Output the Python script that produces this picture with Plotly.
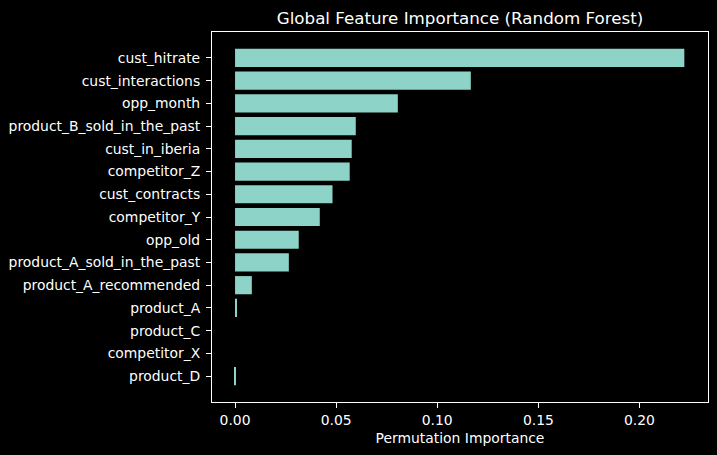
import plotly.graph_objects as go

features = [
    "cust_hitrate", "cust_interactions", "opp_month", "product_B_sold_in_the_past",
    "cust_in_iberia", "competitor_Z", "cust_contracts", "competitor_Y", "opp_old",
    "product_A_sold_in_the_past", "product_A_recommended", "product_A", "product_C",
    "competitor_X", "product_D",
]
importance = [
    0.2222, 0.1166, 0.0805, 0.0597,
    0.0577, 0.0567, 0.0482, 0.0419, 0.0315,
    0.0266, 0.0083, 0.0009, 0.0,
    0.0, -0.0005,
]
x_ticks = [0.0, 0.05, 0.10, 0.15, 0.20]

W, H = 717, 455
L, R, T, B = 212, 9, 32, 53
FONT = "DejaVu Sans"

fig = go.Figure(go.Bar(
    x=importance, y=features, orientation="h",
    marker=dict(color="#8dd3c7", line=dict(width=0)),
))

fig.update_layout(
    width=W, height=H,
    margin=dict(l=L, r=R, t=T, b=B, pad=0),
    paper_bgcolor="black", plot_bgcolor="black",
    font=dict(family=FONT, color="white", size=13.9),
    bargap=0.2, showlegend=False,
    title=dict(text="Global Feature Importance (Random Forest)",
               font=dict(size=16.7, color="white", family=FONT),
               x=(L + (W - R)) / 2 / W, xanchor="center",
               y=1 - 18.5 / H, yanchor="middle", yref="container"),
)
fig.update_xaxes(
    range=[-0.0114, 0.2339], tickvals=x_ticks, tickformat=".2f",
    showgrid=False, zeroline=False,
    showline=True, linecolor="white", linewidth=1.1, mirror=True,
    ticks="outside", ticklen=5, tickwidth=1.1, tickcolor="white",
    tickfont=dict(size=13.9, color="white"),
    title=dict(text="Permutation Importance", font=dict(size=13.9, color="white"), standoff=6),
)
fig.update_yaxes(
    categoryorder="array", categoryarray=features,
    range=[len(features) - 1 + 1.14, -1.14],
    showgrid=False, zeroline=False,
    showline=True, linecolor="white", linewidth=1.1, mirror=True,
    ticks="outside", ticklen=5, tickwidth=1.1, tickcolor="white",
    ticklabelstandoff=3,
    tickfont=dict(size=13.9, color="white"),
)

fig.write_html("out.html")
